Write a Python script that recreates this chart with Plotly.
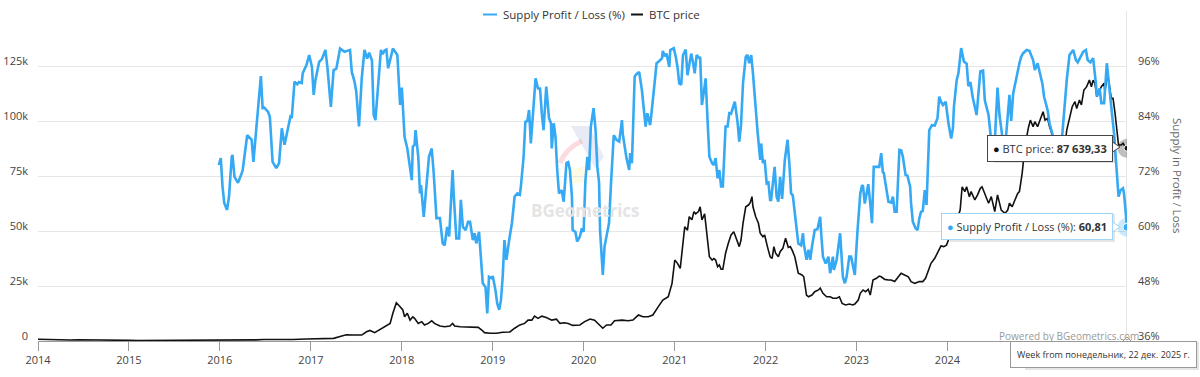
import plotly.graph_objects as go
from datetime import datetime, timedelta

# ---------------- DATA (time as decimal year) ----------------
supply_time = [
    2015.99, 2016.01, 2016.03, 2016.05, 2016.08, 2016.10, 2016.13, 2016.14, 2016.16, 2016.20, 2016.24, 2016.25,
    2016.30, 2016.35, 2016.37, 2016.42, 2016.45, 2016.47, 2016.49, 2016.53, 2016.55, 2016.58, 2016.62, 2016.65,
    2016.68, 2016.71, 2016.78, 2016.79, 2016.82, 2016.85, 2016.87, 2016.90, 2016.91, 2016.95, 2016.98,
    2017.01, 2017.03, 2017.05, 2017.09, 2017.12, 2017.16, 2017.18, 2017.22, 2017.25, 2017.28, 2017.32, 2017.37,
    2017.40, 2017.43, 2017.45, 2017.48, 2017.50, 2017.53, 2017.56, 2017.59, 2017.62, 2017.64, 2017.67, 2017.69,
    2017.71, 2017.77, 2017.79, 2017.81, 2017.83, 2017.85, 2017.90, 2017.93, 2017.95, 2017.98,
    2018.00, 2018.03, 2018.06, 2018.11, 2018.12, 2018.14, 2018.15, 2018.18, 2018.20, 2018.21, 2018.24, 2018.26,
    2018.30, 2018.33, 2018.35, 2018.38, 2018.42, 2018.45, 2018.47, 2018.50, 2018.52, 2018.56, 2018.57, 2018.60,
    2018.63, 2018.65, 2018.67, 2018.70, 2018.73, 2018.75, 2018.78, 2018.80, 2018.82, 2018.85, 2018.88, 2018.89,
    2018.92, 2018.94, 2018.96, 2018.99,
    2019.00, 2019.03, 2019.05, 2019.07, 2019.09, 2019.11, 2019.13, 2019.15, 2019.18, 2019.21, 2019.24, 2019.27,
    2019.30, 2019.31, 2019.34, 2019.36, 2019.38, 2019.40, 2019.42, 2019.44, 2019.47, 2019.50, 2019.52, 2019.54,
    2019.56, 2019.59, 2019.62, 2019.64, 2019.65, 2019.67, 2019.69, 2019.71, 2019.73, 2019.76, 2019.78, 2019.81,
    2019.83, 2019.85, 2019.87, 2019.88, 2019.91, 2019.93, 2019.96, 2019.98,
    2020.00, 2020.02, 2020.04, 2020.06, 2020.08, 2020.11, 2020.13, 2020.15, 2020.17, 2020.18, 2020.21, 2020.23,
    2020.26, 2020.28, 2020.30, 2020.33, 2020.36, 2020.39, 2020.42, 2020.43, 2020.47, 2020.50, 2020.51, 2020.53,
    2020.56, 2020.58, 2020.61, 2020.64, 2020.66, 2020.68, 2020.70, 2020.73, 2020.74, 2020.77, 2020.80, 2020.83,
    2020.86, 2020.87, 2020.89, 2020.91, 2020.94, 2020.95, 2020.98, 2020.99,
    2021.01, 2021.03, 2021.05, 2021.07, 2021.09, 2021.12, 2021.14, 2021.17, 2021.18, 2021.20, 2021.22, 2021.24,
    2021.27, 2021.28, 2021.30, 2021.32, 2021.34, 2021.36, 2021.38, 2021.41, 2021.43, 2021.45, 2021.47, 2021.49,
    2021.51, 2021.53, 2021.56, 2021.58, 2021.60, 2021.62, 2021.64, 2021.66, 2021.69, 2021.71, 2021.73, 2021.75,
    2021.78, 2021.80, 2021.82, 2021.84, 2021.86, 2021.89, 2021.91, 2021.94, 2021.95, 2021.97, 2021.99,
    2022.01, 2022.03, 2022.05, 2022.06, 2022.08, 2022.10, 2022.12, 2022.14, 2022.16, 2022.18, 2022.21, 2022.24,
    2022.26, 2022.28, 2022.30, 2022.33, 2022.36, 2022.39, 2022.41, 2022.42, 2022.45, 2022.47, 2022.49, 2022.51,
    2022.54, 2022.57, 2022.60, 2022.61, 2022.63, 2022.66, 2022.69, 2022.71, 2022.74, 2022.75, 2022.78, 2022.80,
    2022.82, 2022.85, 2022.87, 2022.89, 2022.92, 2022.94, 2022.96, 2022.98,
    2023.01, 2023.04, 2023.06, 2023.07, 2023.09, 2023.12, 2023.13, 2023.15, 2023.17, 2023.19, 2023.22, 2023.25,
    2023.27, 2023.29, 2023.30, 2023.32, 2023.35, 2023.38, 2023.40, 2023.42, 2023.44, 2023.47, 2023.49, 2023.51,
    2023.54, 2023.56, 2023.59, 2023.60, 2023.62, 2023.65, 2023.67, 2023.69, 2023.71, 2023.73, 2023.75, 2023.77,
    2023.79, 2023.80, 2023.83, 2023.86, 2023.89, 2023.91, 2023.93, 2023.95, 2023.98,
    2024.01, 2024.04, 2024.06, 2024.07, 2024.10, 2024.12, 2024.15, 2024.18, 2024.21, 2024.23, 2024.25, 2024.28,
    2024.32, 2024.36, 2024.39, 2024.41, 2024.45, 2024.48, 2024.52, 2024.55, 2024.57, 2024.61, 2024.64, 2024.68,
    2024.70, 2024.72, 2024.75, 2024.79, 2024.81, 2024.83, 2024.87, 2024.90, 2024.94, 2024.96, 2024.99,
    2025.02, 2025.04, 2025.06, 2025.08, 2025.10, 2025.12, 2025.14, 2025.18, 2025.23, 2025.26, 2025.31, 2025.34,
    2025.38, 2025.41, 2025.43, 2025.46, 2025.49, 2025.52, 2025.54, 2025.57, 2025.60, 2025.63, 2025.64, 2025.67,
    2025.69, 2025.72, 2025.74, 2025.75, 2025.77, 2025.79, 2025.81, 2025.83, 2025.86, 2025.88, 2025.90, 2025.93,
    2025.94, 2025.9727,
]
supply_pct = [
    74.4, 75.9, 69.7, 66.1, 64.6, 67.5, 76.2, 76.6, 71.8, 70.5, 72.6, 73.3,
    80.9, 79.9, 75.1, 86.4, 93.8, 86.8, 86.9, 86.0, 84.9, 75.1, 73.7, 74.8,
    82.4, 78.8, 85.3, 84.6, 92.6, 92.0, 92.5, 92.3, 94.4, 96.2, 98.4,
    95.8, 89.7, 92.9, 96.9, 97.5, 99.5, 95.8, 87.1, 95.1, 95.4, 99.8, 99.1,
    99.3, 99.5, 94.7, 92.6, 90.4, 82.8, 93.3, 99.5, 97.6, 98.9, 97.2, 85.3,
    84.2, 99.5, 98.6, 99.4, 99.6, 95.5, 99.8, 99.1, 98.4, 87.5,
    91.3, 80.5, 78.0, 71.1, 78.4, 78.8, 82.0, 76.2, 68.2, 70.0, 63.1, 67.5,
    76.2, 78.0, 72.6, 62.8, 62.8, 57.3, 56.9, 60.9, 58.8, 73.3, 68.2, 58.4,
    58.4, 66.8, 60.9, 60.2, 62.0, 62.0, 58.0, 59.5, 57.3, 59.8, 52.9, 48.6,
    47.8, 42.0, 50.0, 49.7,
    50.2, 47.1, 44.2, 42.8, 44.9, 50.0, 58.0, 53.7, 58.0, 61.7, 67.5, 68.2,
    67.9, 69.7, 76.2, 83.8, 84.0, 86.4, 79.1, 86.0, 93.3, 91.1, 91.1, 85.7,
    82.0, 91.5, 84.6, 83.5, 78.0, 83.5, 80.6, 73.3, 68.2, 68.9, 66.4, 74.8,
    75.0, 73.3, 67.5, 60.2, 59.8, 57.7, 58.8, 60.6,
    59.8, 70.8, 76.2, 73.3, 82.8, 86.8, 82.0, 74.0, 70.6, 60.2, 50.4, 56.6,
    60.2, 61.7, 70.4, 80.9, 79.9, 79.5, 84.2, 81.3, 75.9, 73.3, 77.0, 74.8,
    93.7, 94.2, 94.7, 90.8, 86.4, 82.8, 85.7, 83.1, 84.9, 90.8, 96.6, 97.1,
    97.7, 99.3, 98.1, 98.7, 95.8, 99.5, 99.8, 99.9,
    98.0, 95.8, 92.2, 91.9, 98.4, 99.6, 94.0, 98.0, 98.7, 96.9, 94.4, 98.4,
    97.7, 98.0, 87.5, 90.4, 93.3, 84.9, 76.2, 74.8, 74.4, 75.9, 71.5, 73.3,
    69.7, 69.7, 82.8, 82.8, 85.7, 85.6, 87.1, 88.2, 83.8, 79.5, 83.1, 92.2,
    98.0, 98.4, 96.6, 98.4, 94.4, 85.7, 82.0, 75.5, 79.1, 74.8, 75.5,
    70.4, 70.6, 66.8, 66.8, 70.4, 74.0, 67.5, 66.4, 71.8, 67.0, 75.5, 79.9,
    74.8, 68.2, 67.8, 63.1, 57.3, 56.9, 59.5, 57.3, 53.7, 55.9, 53.7, 56.6,
    60.2, 60.4, 63.1, 59.5, 54.4, 52.9, 54.4, 50.8, 54.4, 51.5, 53.7, 56.6,
    59.5, 50.0, 48.6, 50.0, 54.4, 54.4, 52.2, 50.4,
    60.2, 68.2, 70.0, 69.8, 66.0, 70.0, 70.2, 66.0, 61.7, 74.0, 74.0, 74.0,
    77.0, 72.6, 72.8, 70.4, 66.4, 66.2, 67.5, 64.2, 64.2, 77.7, 77.6, 76.2,
    72.2, 72.1, 69.7, 66.0, 62.0, 60.6, 60.2, 62.8, 64.2, 64.4, 68.9, 65.7,
    77.0, 82.0, 83.1, 83.0, 84.6, 89.3, 88.2, 87.5, 88.2,
    83.5, 80.2, 82.4, 87.1, 92.9, 94.4, 99.9, 97.0, 96.5, 91.6, 92.5, 89.0,
    85.3, 94.8, 95.0, 88.5, 85.3, 79.5, 79.5, 91.3, 85.3, 79.5, 79.8, 89.7,
    84.0, 90.0, 92.9, 96.6, 98.0, 98.8, 99.5, 99.3, 97.3, 95.1, 96.6,
    94.4, 92.2, 89.3, 87.9, 86.4, 83.5, 82.0, 79.0, 78.5, 81.0, 92.9, 98.4,
    99.5, 97.3, 96.8, 98.0, 99.1, 99.5, 97.3, 96.8, 97.7, 92.2, 89.3, 91.1,
    87.9, 87.9, 92.9, 96.6, 92.9, 88.6, 84.9, 81.3, 73.3, 67.5, 68.9, 69.3,
    68.2, 60.81,
]

price_time = [
    2014.00, 2014.10, 2014.20, 2014.35, 2014.45, 2014.55, 2014.70, 2014.85,
    2015.00, 2015.10, 2015.30, 2015.50, 2015.70, 2015.85,
    2016.00, 2016.20, 2016.40, 2016.48, 2016.60, 2016.80, 2016.95,
    2017.02, 2017.15, 2017.25, 2017.32, 2017.39, 2017.46, 2017.56, 2017.61, 2017.65, 2017.70, 2017.76, 2017.81,
    2017.87, 2017.90, 2017.94, 2017.98,
    2018.01, 2018.03, 2018.06, 2018.09, 2018.12, 2018.14, 2018.18, 2018.22, 2018.25, 2018.29, 2018.33, 2018.36,
    2018.42, 2018.47, 2018.53, 2018.56, 2018.58, 2018.64, 2018.69, 2018.77, 2018.84, 2018.88, 2018.91, 2018.97,
    2019.04, 2019.11, 2019.19, 2019.24, 2019.30, 2019.35, 2019.39, 2019.43, 2019.46, 2019.50, 2019.54, 2019.59,
    2019.65, 2019.70, 2019.74, 2019.79, 2019.83, 2019.88, 2019.96,
    2020.01, 2020.07, 2020.12, 2020.16, 2020.21, 2020.25, 2020.30, 2020.34, 2020.42, 2020.49, 2020.54, 2020.60,
    2020.65, 2020.71, 2020.76, 2020.82, 2020.87, 2020.93, 2020.97,
    2021.00, 2021.03, 2021.06, 2021.09, 2021.11, 2021.14, 2021.16, 2021.19, 2021.21, 2021.23, 2021.26, 2021.28,
    2021.30, 2021.33, 2021.35, 2021.38, 2021.41, 2021.43, 2021.45, 2021.47, 2021.49, 2021.51, 2021.53, 2021.56,
    2021.59, 2021.62, 2021.65, 2021.68, 2021.71, 2021.73, 2021.75, 2021.78, 2021.81, 2021.83, 2021.85, 2021.86,
    2021.89, 2021.92, 2021.94, 2021.97, 2021.99,
    2022.02, 2022.05, 2022.07, 2022.09, 2022.11, 2022.14, 2022.16, 2022.19, 2022.22, 2022.25, 2022.27, 2022.29,
    2022.32, 2022.36, 2022.40, 2022.42, 2022.45, 2022.47, 2022.51, 2022.54, 2022.58, 2022.60, 2022.63, 2022.67,
    2022.71, 2022.74, 2022.78, 2022.81, 2022.84, 2022.88, 2022.92, 2022.96, 2022.98,
    2023.02, 2023.04, 2023.07, 2023.10, 2023.13, 2023.15, 2023.18, 2023.22, 2023.25, 2023.27, 2023.31, 2023.35,
    2023.38, 2023.42, 2023.46, 2023.49, 2023.53, 2023.57, 2023.60, 2023.64, 2023.69, 2023.73, 2023.76, 2023.79,
    2023.82, 2023.86, 2023.90, 2023.93, 2023.96, 2023.99,
    2024.01, 2024.04, 2024.08, 2024.11, 2024.14, 2024.16, 2024.19, 2024.21, 2024.24, 2024.26, 2024.30, 2024.33,
    2024.36, 2024.38, 2024.42, 2024.45, 2024.48, 2024.52, 2024.55, 2024.57, 2024.59, 2024.63, 2024.66, 2024.68,
    2024.71, 2024.74, 2024.77, 2024.79, 2024.82, 2024.84, 2024.86, 2024.89, 2024.91, 2024.94, 2024.96, 2024.99,
    2025.02, 2025.05, 2025.07, 2025.10, 2025.12, 2025.14, 2025.18, 2025.21, 2025.25, 2025.28, 2025.31, 2025.34,
    2025.37, 2025.40, 2025.42, 2025.45, 2025.47, 2025.50, 2025.53, 2025.56, 2025.58, 2025.60, 2025.62, 2025.64,
    2025.67, 2025.69, 2025.72, 2025.73, 2025.75, 2025.77, 2025.80, 2025.82, 2025.84, 2025.86, 2025.88, 2025.91,
    2025.93, 2025.95, 2025.9727,
]
price_usd = [
    800, 650, 560, 450, 600, 600, 420, 380,
    280, 230, 230, 270, 240, 380,
    430, 420, 530, 700, 590, 700, 900,
    1000, 1100, 1200, 2000, 2800, 2700, 2700, 4200, 4800, 3800, 5300, 6500,
    8000, 12600, 17400, 15600,
    14100, 11000, 12600, 9500, 11000, 10300, 8000, 8800, 7300, 8000, 9200, 8000,
    6800, 6500, 6800, 8000, 6800, 6500, 6500, 6400, 6200, 5000, 3800, 3500,
    3500, 4000, 4100, 5800, 7300, 8000, 9500, 9500, 11300, 10300, 11300, 10700,
    9500, 9900, 8000, 8300, 8000, 7100, 7300,
    8800, 10000, 9500, 8000, 5800, 7300, 7300, 9200, 9500, 9200, 9500, 11800,
    11000, 11000, 11800, 15600, 18600, 20100, 26200,
    36800, 35300, 33000, 42900, 51900, 50400, 56500, 55100, 58800, 57800, 58800, 61000,
    55000, 57800, 50400, 38300, 36800, 37500, 36800, 33800, 34600, 32600, 32600, 39900,
    44400, 48200, 49700, 46700, 42900, 45900, 53500, 61000, 61800, 62900, 65600, 61000,
    56500, 53500, 49000, 47400, 48200,
    42900, 38300, 37500, 42900, 39900, 38300, 40600, 42100, 46700, 42500, 42900, 41400,
    38300, 30800, 30000, 29200, 20900, 20100, 20900, 22400, 23200, 24000, 21700, 20100,
    20100, 19400, 19400, 20100, 17100, 16400, 16800, 16400, 16800,
    18600, 21700, 23200, 22400, 23500, 20900, 27700, 28500, 29500, 29200, 28000, 27700,
    27700, 27000, 29200, 30800, 30000, 29200, 27000, 26200, 27000, 27000, 28500, 32300,
    35300, 37600, 40600, 43200, 42900, 43600,
    45900, 49000, 52000, 56000, 59500, 70100, 67900, 70100, 65600, 67900, 64100, 66400,
    69400, 70100, 65600, 62600, 65600, 58800, 66400, 62600, 59500, 58000, 59500, 62600,
    61000, 64100, 67100, 67900, 76200, 83800, 91000, 97400, 100400, 97400, 99700, 97400,
    101200, 104200, 100400, 101200, 97400, 95100, 86000, 84000, 84500, 85000, 95900, 101900,
    106500, 108800, 105700, 109500, 107300, 114100, 115600, 118600, 115600, 118600, 117100, 111000,
    114100, 115600, 117100, 113300, 119400, 118600, 110300, 110300, 103500, 95900, 89100, 89100,
    89900, 88300, 87639.33,
]

left_ticks = [0, 25000, 50000, 75000, 100000, 125000, 150000]
left_tick_text = ["0", "25k", "50k", "75k", "100k", "125k", ""]
right_ticks = [36, 48, 60, 72, 84, 96, 108]
right_tick_text = ["36%", "48%", "60%", "72%", "84%", "96%", ""]
year_ticks = list(range(2014, 2026))

series_names = ["Supply Profit / Loss (%)", "BTC price"]
axis2_title = "Supply in Profit / Loss"
watermark = "BGeometrics"
credits = "Powered by BGeometrics.com"

ru_weekdays = ["понедельник", "вторник", "среда", "четверг", "пятница", "суббота", "воскресенье"]
ru_months = ["янв.", "февр.", "мар.", "апр.", "мая", "июн.", "июл.", "авг.", "сент.", "окт.", "нояб.", "дек."]

BLUE = "#35a9f3"
BLACK = "#111111"
FONT = "Open Sans"


def to_date(t):
    y = int(t)
    s = datetime(y, 1, 1)
    e = datetime(y + 1, 1, 1)
    return s + timedelta(days=round((e - s).days * (t - y)))


sx = [to_date(t) for t in supply_time]
px_ = [to_date(t) for t in price_time]
x_start = to_date(price_time[0])
x_end = px_[-1]

# pixel helpers for layout placement (plot area 38..1127 x 11..341)
L, R, T, B = 38, 1127, 11, 341


def fx(p):
    return (p - L) / (R - L)


def fy(p):
    return (B - p) / (B - T)


fig = go.Figure()
fig.add_trace(go.Scatter(x=sx, y=supply_pct, yaxis="y2", mode="lines", name=series_names[0],
                         line=dict(color=BLUE, width=2.6), showlegend=False, hoverinfo="skip"))
fig.add_trace(go.Scatter(x=px_, y=price_usd, yaxis="y", mode="lines", name=series_names[1],
                         line=dict(color=BLACK, width=1.6), showlegend=False, hoverinfo="skip"))

# hover state markers on last points
fig.add_trace(go.Scatter(x=[sx[-1]], y=[supply_pct[-1]], yaxis="y2", mode="markers",
                         marker=dict(size=19, color="rgba(53,169,243,0.25)"), showlegend=False, hoverinfo="skip"))
fig.add_trace(go.Scatter(x=[sx[-1]], y=[supply_pct[-1]], yaxis="y2", mode="markers",
                         marker=dict(size=8, color=BLUE, line=dict(color="white", width=1)),
                         showlegend=False, hoverinfo="skip"))
fig.add_trace(go.Scatter(x=[px_[-1]], y=[price_usd[-1]], yaxis="y", mode="markers",
                         marker=dict(size=19, color="rgba(0,0,0,0.25)"), showlegend=False, hoverinfo="skip"))
fig.add_trace(go.Scatter(x=[px_[-1]], y=[price_usd[-1]], yaxis="y", mode="markers",
                         marker=dict(size=6, color=BLACK, line=dict(color="white", width=1)),
                         showlegend=False, hoverinfo="skip"))

shapes = []
# crosshair
shapes.append(dict(type="line", xref="x", yref="paper", x0=x_end, x1=x_end, y0=0, y1=1,
                   line=dict(color="#cccccc", width=1), layer="below"))

# faint logo watermark
shapes.append(dict(type="path", xref="paper", yref="paper", layer="below",
                   path=f"M {fx(571)},{fy(126)} L {fx(589)},{fy(126)} L {fx(604)},{fy(157)} L {fx(595)},{fy(168)} Z",
                   fillcolor="rgba(150,160,215,0.22)", line=dict(width=0)))
shapes.append(dict(type="path", xref="paper", yref="paper", layer="below",
                   path=f"M {fx(560)},{fy(163)} Q {fx(566)},{fy(148)} {fx(582)},{fy(141)}",
                   line=dict(color="rgba(240,110,120,0.25)", width=5)))
shapes.append(dict(type="path", xref="paper", yref="paper", layer="below",
                   path=f"M {fx(570)},{fy(170)} L {fx(584)},{fy(166)} L {fx(586)},{fy(182)} L {fx(572)},{fy(184)} Z",
                   fillcolor="rgba(250,225,100,0.18)", line=dict(width=0)))

# custom legend symbols
shapes.append(dict(type="line", xref="paper", yref="paper", x0=fx(483), x1=fx(497), y0=fy(14.5), y1=fy(14.5),
                   line=dict(color=BLUE, width=2)))
shapes.append(dict(type="line", xref="paper", yref="paper", x0=fx(631), x1=fx(643), y0=fy(14.5), y1=fy(14.5),
                   line=dict(color=BLACK, width=2)))


def tooltip_box(x0, y0, x1, y1, border, pointer):
    # shadow
    shapes.append(dict(type="rect", xref="paper", yref="paper", x0=fx(x0 + 1), x1=fx(x1 + 2), y0=fy(y0 + 1),
                       y1=fy(y1 + 2), fillcolor="rgba(0,0,0,0.10)", line=dict(width=0), layer="above"))
    shapes.append(dict(type="path", xref="paper", yref="paper", layer="above",
                       path=pointer, fillcolor="white", line=dict(color=border, width=1)))


pr_txt = f"{price_usd[-1]:,.2f}".replace(",", " ").replace(".", ",")
sp_txt = f"{supply_pct[-1]:.2f}".replace(".", ",")
ld = x_end
week_txt = f"Week from {ru_weekdays[ld.weekday()]}, {ld.day} {ru_months[ld.month - 1]} {ld.year} г."

tooltip_box(993, 135, 1113, 161, "#444444",
            f"M {fx(1111)},{fy(141)} L {fx(1120)},{fy(147)} L {fx(1111)},{fy(153)} Z")
tooltip_box(949, 213, 1113, 240, "#9fd6f7",
            f"M {fx(1111)},{fy(221)} L {fx(1120)},{fy(227)} L {fx(1111)},{fy(233)} Z")
tooltip_box(1024, 341, 1197, 368, "#999999",
            f"M {fx(1121)},{fy(343)} L {fx(1127)},{fy(337)} L {fx(1133)},{fy(343)} Z")

ann = []
# legend texts
ann.append(dict(xref="paper", yref="paper", x=fx(501), y=fy(15), xanchor="left", yanchor="middle",
                text=series_names[0], showarrow=False, font=dict(family=FONT, size=11.5, color="#333333")))
ann.append(dict(xref="paper", yref="paper", x=fx(647), y=fy(15), xanchor="left", yanchor="middle",
                text=series_names[1], showarrow=False, font=dict(family=FONT, size=11.5, color="#333333")))
# right axis title
ann.append(dict(xref="paper", yref="paper", x=fx(1178), y=fy(176), xanchor="center", yanchor="middle",
                text=axis2_title, textangle=90, showarrow=False,
                font=dict(family=FONT, size=11.5, color="#666666")))
# watermark
ann.append(dict(xref="paper", yref="paper", x=fx(585), y=fy(210), xanchor="center", yanchor="middle",
                text=f"<b>{watermark}</b>", showarrow=False, font=dict(family=FONT, size=17, color="#e4e4e4")))
# credits
ann.append(dict(xref="paper", yref="paper", x=fx(1141), y=fy(336), xanchor="right", yanchor="middle",
                text=credits, showarrow=False, font=dict(family=FONT, size=10, color="#999999")))
# tooltips
ann.append(dict(xref="paper", yref="paper", x=fx(1113), y=fy(135), xanchor="right", yanchor="top",
                text=f"<span style='color:{BLACK}'>●</span> BTC price: <b>{pr_txt}</b>", showarrow=False,
                bgcolor="white", bordercolor="#444444", borderwidth=1, borderpad=5,
                align="center", font=dict(family=FONT, size=11, color="#333333")))
ann.append(dict(xref="paper", yref="paper", x=fx(1113), y=fy(213), xanchor="right", yanchor="top",
                text=f"<span style='color:{BLUE}'>●</span> {series_names[0]}: <b>{sp_txt}</b>", showarrow=False,
                bgcolor="white", bordercolor="#9fd6f7", borderwidth=1, borderpad=5,
                align="center", font=dict(family=FONT, size=11, color="#333333")))
ann.append(dict(xref="paper", yref="paper", x=fx(1197), y=fy(341), xanchor="right", yanchor="top",
                text=week_txt, showarrow=False,
                bgcolor="white", bordercolor="#999999", borderwidth=1, borderpad=6,
                align="center", font=dict(family=FONT, size=9, color="#333333")))

fig.update_layout(
    width=1200, height=377,
    margin=dict(l=L, r=1200 - R, t=T, b=377 - B, pad=0, autoexpand=False),
    paper_bgcolor="white", plot_bgcolor="white",
    font=dict(family=FONT, color="#333333"),
    showlegend=False,
    shapes=shapes, annotations=ann,
    xaxis=dict(type="date", range=[x_start, x_end], tickvals=[datetime(y, 1, 1) for y in year_ticks],
               ticktext=[str(y) for y in year_ticks], showgrid=False, zeroline=False, automargin=False,
               showline=True, linecolor="#999999", linewidth=1, ticks="outside", ticklen=9,
               tickcolor="#999999", tickfont=dict(family=FONT, size=11, color="#444444")),
    yaxis=dict(range=[0, 150000], tickvals=left_ticks, ticktext=left_tick_text, showgrid=True,
               gridcolor="#e6e6e6", gridwidth=1, zeroline=False, showline=False, ticks="", automargin=False,
               tickfont=dict(family=FONT, size=11, color="#444444"), ticklabelstandoff=9, ticklabelshift=-5),
    yaxis2=dict(range=[36, 108], tickvals=right_ticks, ticktext=right_tick_text, overlaying="y", side="right",
                showgrid=False, zeroline=False, showline=False, ticks="", automargin=False,
                tickfont=dict(family=FONT, size=11, color="#444444"), ticklabelstandoff=10, ticklabelshift=-5),
)

fig.write_html("out.html", config={"displayModeBar": False},
               post_script="document.body.style.margin='0';document.body.style.overflow='hidden';")
